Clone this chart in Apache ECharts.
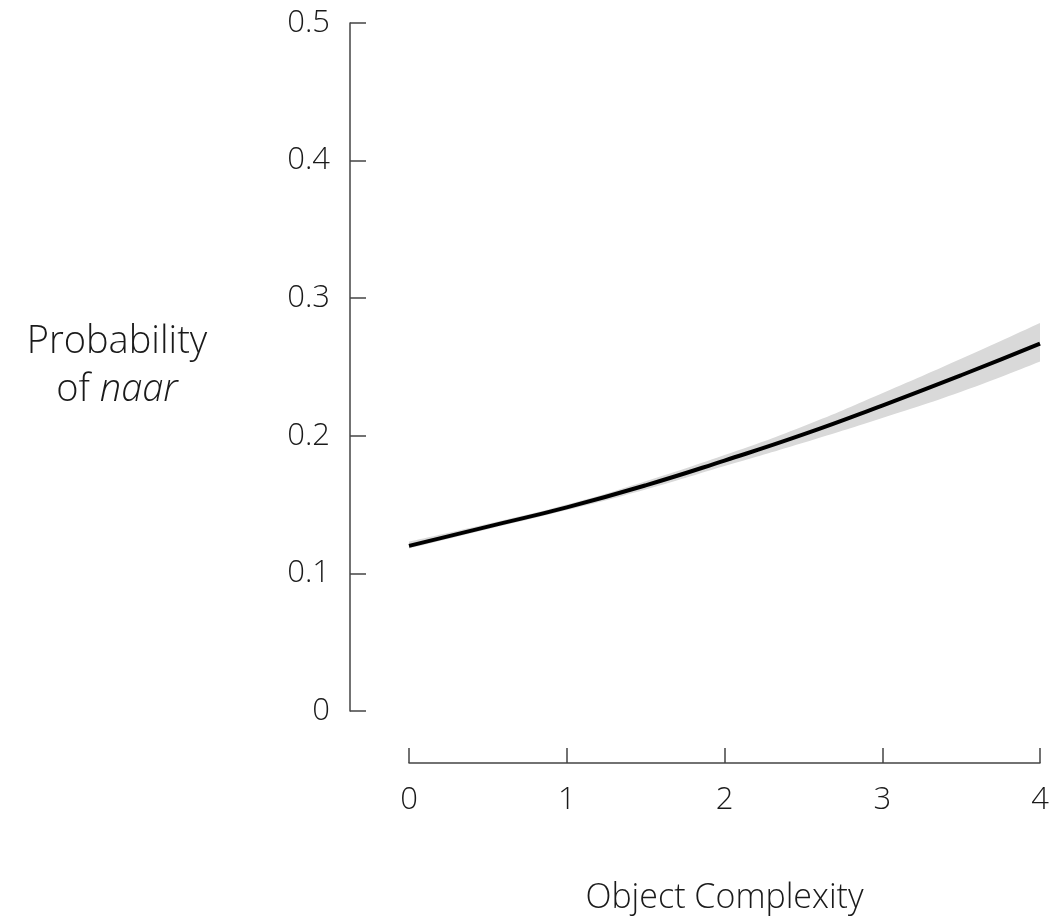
<!DOCTYPE html>
<html>
<head>
<meta charset="utf-8">
<script src="https://cdn.jsdelivr.net/npm/echarts@6/dist/echarts.min.js"></script>
<style>
html,body{margin:0;padding:0;background:#fff;}
#chart{width:1063px;height:921px;}
</style>
</head>
<body>
<div id="chart"></div>
<script>
// predicted probability of "naar" by object complexity
var complexity = [0, 0.5, 1, 1.5, 2, 2.5, 3, 3.5, 4];
var probFit    = [0.120, 0.134, 0.148, 0.164, 0.182, 0.201, 0.222, 0.244, 0.267];
var ciLower    = [0.118, 0.132, 0.146, 0.161, 0.178, 0.195, 0.213, 0.232, 0.254];
var ciUpper    = [0.123, 0.136, 0.150, 0.167, 0.186, 0.207, 0.231, 0.256, 0.282];

var fontFam = '"Open Sans", "Noto Sans", sans-serif';
var axisCol = '#444';
var txtCol = '#1a1a1a';

var myChart = echarts.init(document.getElementById('chart'));

function pairs(ys) {
    return complexity.map(function (x, i) { return [x, ys[i]]; });
}

var option = {
    animation: false,
    grid: { left: 409, right: 23, top: 23, bottom: 210 },
    xAxis: {
        type: 'value',
        min: 0, max: 4, interval: 1,
        offset: 52,
        name: 'Object Complexity',
        nameLocation: 'middle',
        nameGap: 118,
        nameTextStyle: { fontFamily: fontFam, fontSize: 34, fontWeight: 300, color: txtCol },
        axisLine: { onZero: false, lineStyle: { color: axisCol, width: 1.5 } },
        axisTick: { inside: true, length: 15, lineStyle: { color: axisCol, width: 1.5 } },
        axisLabel: { margin: 22, fontFamily: fontFam, fontSize: 31, fontWeight: 300, color: txtCol },
        splitLine: { show: false }
    },
    yAxis: {
        type: 'value',
        min: 0, max: 0.5, interval: 0.1,
        offset: 59,
        axisLine: { show: true, onZero: false, lineStyle: { color: axisCol, width: 1.5 } },
        axisTick: { show: true, inside: true, length: 16, lineStyle: { color: axisCol, width: 1.5 } },
        axisLabel: { margin: 20, fontFamily: fontFam, fontSize: 31, fontWeight: 300, color: txtCol },
        splitLine: { show: false }
    },
    graphic: [{
        type: 'text',
        x: 117, y: 318,
        style: {
            text: 'Probability\n{n|of }{i|naar}',
            font: '300 38px ' + fontFam,
            fill: txtCol,
            align: 'center',
            lineHeight: 48,
            rich: {
                n: { fontFamily: fontFam, fontSize: 38, fontWeight: 300, fill: txtCol, lineHeight: 48 },
                i: { fontFamily: fontFam, fontSize: 38, fontWeight: 300, fontStyle: 'italic', fill: txtCol, lineHeight: 48 }
            }
        }
    }],
    series: [{
        // upper edge of confidence band, filled grey down to the axis
        type: 'line',
        data: pairs(ciUpper),
        smooth: true,
        symbol: 'none',
        lineStyle: { width: 0 },
        areaStyle: { color: '#d9d9d9', opacity: 1 },
        silent: true,
        z: 1
    }, {
        // lower edge, masks the grey below the band
        type: 'line',
        data: pairs(ciLower),
        smooth: true,
        symbol: 'none',
        lineStyle: { width: 0 },
        areaStyle: { color: '#fff', opacity: 1 },
        silent: true,
        z: 2
    }, {
        type: 'line',
        data: pairs(probFit),
        smooth: true,
        symbol: 'none',
        lineStyle: { color: '#000', width: 4 },
        z: 3
    }]
};
myChart.setOption(option);
</script>
</body>
</html>
